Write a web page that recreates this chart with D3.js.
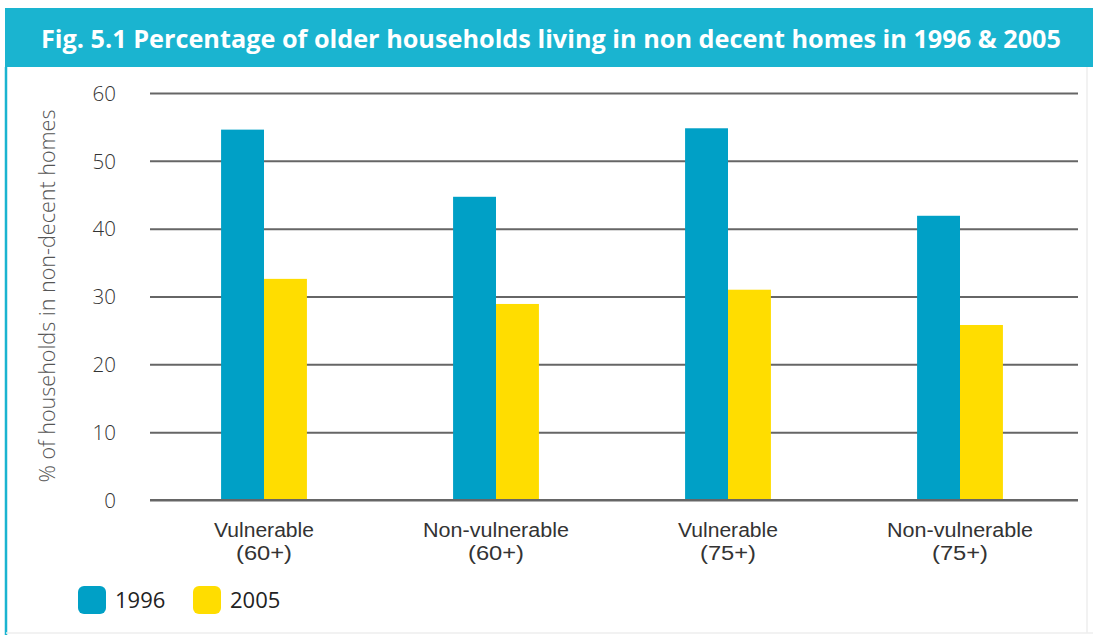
<!DOCTYPE html>
<html><head><meta charset="utf-8">
<script src="https://cdn.jsdelivr.net/npm/d3@7"></script>
<style>
html,body{margin:0;padding:0;background:#fff;}
svg{display:block;font-family:"Open Sans","Noto Sans",sans-serif;}
</style></head>
<body><svg id="chart" width="1093" height="635"></svg>
<script>
const titleText = "Fig. 5.1 Percentage of older households living in non decent homes in 1996 & 2005";
const categories = [["Vulnerable","(60+)"],["Non-vulnerable","(60+)"],["Vulnerable","(75+)"],["Non-vulnerable","(75+)"]];
const categoryKeys = ["V60","NV60","V75","NV75"];
const seriesNames = ["1996","2005"];
const values1996 = [54.6, 44.7, 54.8, 41.9];
const values2005 = [32.6, 28.9, 31.0, 25.8];
const yTicks = [0,10,20,30,40,50,60];
const yLabel = "% of households in non-decent homes";
const colors = ["#00a0c6","#ffdd00"];

const svg = d3.select("#chart");
// frame
svg.append("rect").attr("x",5).attr("y",8).attr("width",1088).attr("height",59).attr("fill","#1ab4d0");
svg.append("line").attr("x1",6).attr("x2",6).attr("y1",67).attr("y2",635).attr("stroke","#1ab4d0").attr("stroke-width",2.5);
svg.append("line").attr("x1",6).attr("x2",1093).attr("y1",633).attr("y2",633).attr("stroke","#eee").attr("stroke-width",1.5);
svg.append("line").attr("x1",1087).attr("x2",1087).attr("y1",67).attr("y2",633).attr("stroke","#eee").attr("stroke-width",1.5);
svg.append("text").attr("x",41).attr("y",48).attr("fill","#fff")
  .style("font-family","'Open Sans',sans-serif")
  .attr("font-weight","bold").attr("font-size",25)
  .attr("textLength",1020).attr("lengthAdjust","spacingAndGlyphs")
  .text(titleText);

const x0 = d3.scaleBand().domain(categoryKeys).range([148,1076]).paddingInner(0.63).paddingOuter(0.315);
const x1 = d3.scaleBand().domain(seriesNames).range([0,x0.bandwidth()]);
const y = d3.scaleLinear().domain([0,60]).range([500,93]);

// grid
const yAxis = d3.axisLeft(y).tickValues(yTicks).tickSize(-(1078-150)).tickPadding(34);
const gy = svg.append("g").attr("transform","translate(150,0)").call(yAxis);
gy.attr("font-family",null);
gy.select(".domain").remove();
gy.selectAll(".tick line").attr("stroke","#666").attr("stroke-width",2);
gy.selectAll(".tick text").attr("font-size",20.5).attr("fill","#333").attr("font-weight",300).attr("dy","0.35em");

svg.append("text").attr("transform","translate(55,296) rotate(-90)").attr("text-anchor","middle")
  .attr("font-size",21.5).attr("fill","#555").attr("font-weight",300)
  .attr("textLength",373).attr("lengthAdjust","spacingAndGlyphs").text(yLabel);

const data = categoryKeys.map((k,i)=>({key:k, vals:[values1996[i], values2005[i]]}));
const g = svg.append("g");
data.forEach(d=>{
  d.vals.forEach((v,j)=>{
    g.append("rect").attr("x",x0(d.key)+x1(seriesNames[j])).attr("width",x1.bandwidth())
      .attr("y",y(v)).attr("height",y(0)-y(v)).attr("fill",colors[j]);
  });
});
// redraw baseline over bars
svg.append("line").attr("x1",150).attr("x2",1078).attr("y1",y(0)).attr("y2",y(0)).attr("stroke","#666").attr("stroke-width",2);

// x labels
const xAxis = d3.axisBottom(x0).tickSize(0);
const gx = svg.append("g").attr("transform",`translate(0,${y(0)})`).call(xAxis);
gx.attr("font-family",null);
gx.select(".domain").remove();
gx.selectAll(".tick text").remove();
gx.selectAll(".tick").each(function(k,i){
  const sel = d3.select(this);
  [0,1].forEach(li=>{
    sel.append("text").attr("text-anchor","middle").attr("fill","#333")
      .style("font-family","'Liberation Sans',Arial,sans-serif")
      .attr("font-size",20).attr("x",0).attr("y",li===0?37:60)
      .attr("textLength", li===0 ? (categories[i][0].length>11?146:100) : 56)
      .attr("lengthAdjust","spacingAndGlyphs")
      .text(categories[i][li]);
  });
});

// legend
const legX = [78,193];
seriesNames.forEach((s,i)=>{
  svg.append("rect").attr("x",legX[i]).attr("y",586).attr("width",28).attr("height",28).attr("rx",6).attr("fill",colors[i]);
  svg.append("text").attr("x",legX[i]+37).attr("y",608).attr("font-size",22).attr("fill","#222").text(s);
});
</script></body></html>
